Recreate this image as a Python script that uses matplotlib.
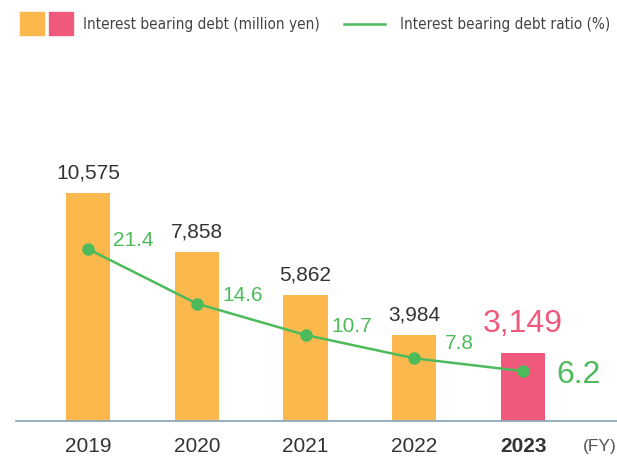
import matplotlib.pyplot as plt
from matplotlib.patches import Rectangle
from matplotlib.lines import Line2D

# data
years = ['2019', '2020', '2021', '2022', '2023']
debt = [10575, 7858, 5862, 3984, 3149]
ratio = [21.4, 14.6, 10.7, 7.8, 6.2]

ORANGE = '#fbb84d'
PINK = '#f0587c'
GREEN = '#4dbb5b'
DARK = '#333333'
W, H = 617, 459

plt.rcParams['font.family'] = ['Liberation Sans', 'DejaVu Sans']

fig = plt.figure(figsize=(W / 100, H / 100), dpi=100)
ax = fig.add_axes([16 / W, 38 / H, 601 / W, 361 / H])
ax2 = ax.twinx()

x = list(range(len(years)))
colors = [ORANGE] * 4 + [PINK]
ax.bar(x, debt, width=0.405, color=colors, zorder=2)
ax.set_xlim(-0.662, 4.864)
ax.set_ylim(0, 16744)
ax2.set_ylim(0, 44.9)

ax2.plot(x, ratio, color=GREEN, lw=1.8, marker='o', ms=8, zorder=3)

for a in (ax, ax2):
    for s in ['top', 'right', 'left']:
        a.spines[s].set_visible(False)
    a.set_yticks([])
ax2.spines['bottom'].set_visible(False)
ax.spines['bottom'].set_color('#8fa8b8')
ax.spines['bottom'].set_linewidth(1.3)
ax.set_xticks([])

# bar labels
for i, v in enumerate(debt):
    if i < 4:
        ax.annotate(f'{v:,}', (i, v), xytext=(0, 20), textcoords='offset pixels',
                    ha='center', va='center', fontsize=15, color=DARK)
    else:
        ax.annotate(f'{v:,}', (i, v), xytext=(0, 29), textcoords='offset pixels',
                    ha='center', va='center', fontsize=23, color=PINK)

# ratio labels (offsets in pixels from the point)
lab_off = [(25, 8), (26, 8), (26, 8), (31, 15), (33, -4)]
for i, r in enumerate(ratio):
    big = i == 4
    ax2.annotate(f'{r}', (i, r), xytext=lab_off[i], textcoords='offset pixels',
                 ha='left', va='center', fontsize=23 if big else 15, color=GREEN)

# year labels
for i, y in enumerate(years):
    ax.annotate(y, (i, 0), xytext=(0, -26), textcoords='offset pixels',
                ha='center', va='center', fontsize=15, color=DARK,
                fontweight='bold' if i == 4 else 'normal')
fig.text(600 / W, 1 - 447 / H, '(FY)', ha='center', va='center',
         fontsize=12.5, color='#555555')

# legend
fig.add_artist(Rectangle((20 / W, 1 - 35 / H), 24 / W, 23 / H,
                         transform=fig.transFigure, color=ORANGE))
fig.add_artist(Rectangle((49 / W, 1 - 35 / H), 24 / W, 23 / H,
                         transform=fig.transFigure, color=PINK))
fig.text(83 / W, 1 - 24 / H, 'Interest bearing debt (million yen)', ha='left',
         va='center', fontsize=11, color='#444444',
         family='DejaVu Sans', fontstretch='condensed')
fig.add_artist(Line2D([344 / W, 385 / W], [1 - 24 / H, 1 - 24 / H],
                      transform=fig.transFigure, color=GREEN, lw=1.8))
fig.text(400 / W, 1 - 24 / H, 'Interest bearing debt ratio (%)', ha='left',
         va='center', fontsize=11, color='#444444',
         family='DejaVu Sans', fontstretch='condensed')

fig.savefig('out.png', dpi=100)
